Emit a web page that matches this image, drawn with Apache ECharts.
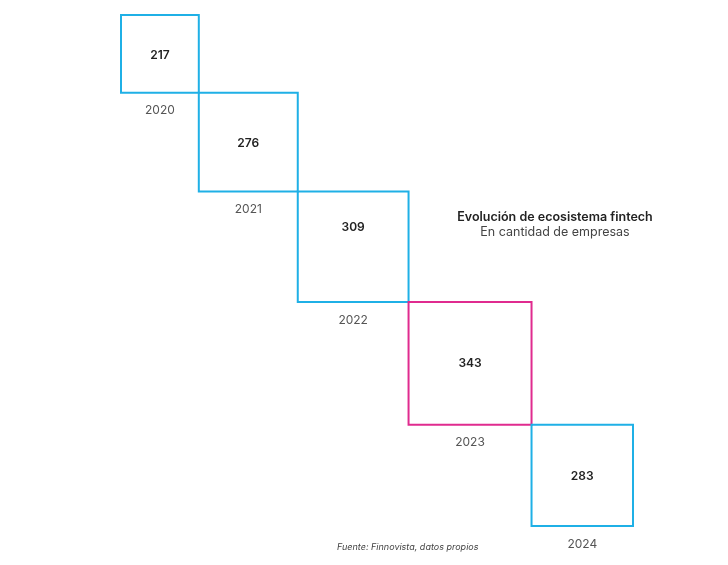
<!DOCTYPE html>
<html>
<head>
<meta charset="utf-8">
<script src="https://cdn.jsdelivr.net/npm/echarts@6/dist/echarts.min.js"></script>
<style>html,body{margin:0;padding:0;background:#fff}#c{width:728px;height:565px}</style>
</head>
<body>
<div id="c"></div>
<script>
const years = ['2020', '2021', '2022', '2023', '2024'];
const values = [217, 276, 309, 343, 283];
const highlightYear = '2023';
const titleText = 'Evolución de ecosistema fintech';
const subtitleText = 'En cantidad de empresas';
const sourceText = 'Fuente: Finnovista, datos propios';

// style-only: vertical nudge of value labels in px
const labelNudge = [1.5, 1.5, -19, 0, 1.5];

const starts = [];
let acc = 0;
values.forEach(v => { starts.push(acc); acc += v; });
const total = acc;

const data = values.map((v, i) => [starts[i], starts[i] + v, v, years[i]]);

const chart = echarts.init(document.getElementById('c'));
chart.setOption({
  animation: false,
  backgroundColor: '#fff',
  grid: { left: 121, top: 15, width: 512, height: 511 },
  xAxis: { type: 'value', min: 0, max: total, show: false },
  yAxis: { type: 'value', min: 0, max: total, inverse: true, show: false },
  title: [
    { text: titleText, subtext: subtitleText, left: 550, top: 206, textAlign: 'center', itemGap: 2,
      textStyle: { fontFamily: 'Inter', fontSize: 12.5, fontWeight: 600, color: '#222' },
      subtextStyle: { fontFamily: 'Inter', fontSize: 12.5, fontWeight: 400, color: '#444' } },
    { text: sourceText, left: 332, top: 538,
      textStyle: { fontFamily: 'Inter', fontSize: 9, fontWeight: 400, fontStyle: 'italic', color: '#444' } }
  ],
  series: [{
    type: 'custom',
    data: data,
    renderItem: function (params, api) {
      const i = params.dataIndex;
      const p0 = api.coord([api.value(0), api.value(0)]);
      const p1 = api.coord([api.value(1), api.value(1)]);
      const color = years[i] === highlightYear ? '#e02b8f' : '#1fb0e6';
      const cx = (p0[0] + p1[0]) / 2, cy = (p0[1] + p1[1]) / 2;
      return {
        type: 'group',
        children: [
          { type: 'rect', shape: { x: p0[0], y: p0[1], width: p1[0] - p0[0], height: p1[1] - p0[1] },
            style: { fill: 'none', stroke: color, lineWidth: 2 } },
          { type: 'text', x: cx, y: cy + labelNudge[i],
            style: { text: String(values[i]), textAlign: 'center', textVerticalAlign: 'middle',
              fontFamily: 'Inter', fontSize: 12, fontWeight: 600, fill: '#222' } },
          { type: 'text', x: cx, y: p1[1] + 18,
            style: { text: years[i], textAlign: 'center', textVerticalAlign: 'middle',
              fontFamily: 'Inter', fontSize: 12, fontWeight: 400, fill: '#555' } }
        ]
      };
    }
  }]
});
</script>
</body>
</html>
